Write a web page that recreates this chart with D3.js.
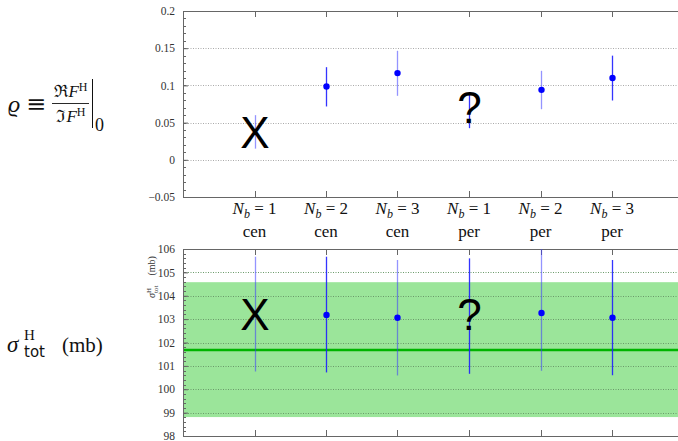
<!DOCTYPE html>
<html><head><meta charset="utf-8">
<script src="https://cdn.jsdelivr.net/npm/d3@7"></script>
<style>
body{margin:0;background:#fff;}
svg{display:block;font-family:"Liberation Serif","DejaVu Serif",serif;}
</style></head>
<body>
<svg id="c" width="678" height="441"></svg>
<script>
// ---- data ----
const nbValues = [1, 2, 3, 1, 2, 3];
const kinds = ["cen", "cen", "cen", "per", "per", "per"];
const markers = ["X", "", "", "?", "", ""];
const rhoCenter = [0.037, 0.0985, 0.1165, 0.071, 0.094, 0.110];
const rhoLow = [0.015, 0.0717, 0.086, 0.0425, 0.068, 0.0797];
const rhoHigh = [0.060, 0.1245, 0.1465, 0.0875, 0.1196, 0.140];
const sigCenter = [103.2, 103.18, 103.06, 103.2, 103.26, 103.06];
const sigLow = [100.76, 100.72, 100.59, 100.66, 100.79, 100.6];
const sigHigh = [105.67, 105.67, 105.53, 105.6, 106.1, 105.53];
const sigBandLow = [98.81];
const sigBandHigh = [104.58];
const sigBandCenter = [101.68];
const rhoTicks = [-0.05, 0, 0.05, 0.1, 0.15, 0.2];
const rhoTickLabels = ["\u22120.05", "0", "0.05", "0.1", "0.15", "0.2"];
const sigTicks = [98, 99, 100, 101, 102, 103, 104, 105, 106];
const sigTickLabels = ["98", "99", "100", "101", "102", "103", "104", "105", "106"];

const svg = d3.select("#c");
const idx = d3.range(nbValues.length);
const x = d3.scaleLinear().domain([0, 7]).range([183, 683.5]);
const X0 = 183, X1 = 683.5;
const axisCol = "#666";

function panel(y, ticks, labels, minorStep, center, low, high, band) {
  const [yb, yt] = y.range();
  const g = svg.append("g");
  if (band) {
    g.append("rect").attr("x", X0).attr("width", X1 - X0)
      .attr("y", y(band.hi)).attr("height", y(band.lo) - y(band.hi))
      .attr("fill", "#9be59a");
  }
  g.selectAll(".grid").data(ticks.slice(1, -1)).join("line")
    .attr("x1", X0).attr("x2", X1)
    .attr("y1", d => Math.round(y(d)) + 0.5).attr("y2", d => Math.round(y(d)) + 0.5)
    .attr("stroke", band ? "#6a9a6a" : "#aaa").attr("stroke-width", 1)
    .attr("stroke-dasharray", "1,1.5");
  if (band) {
    g.append("line").attr("x1", X0).attr("x2", X1)
      .attr("y1", y(band.c)).attr("y2", y(band.c))
      .attr("stroke", "#00b400").attr("stroke-width", 2.5);
  }
  const d0 = y.domain();
  const minors = d3.range(Math.round((d0[1] - d0[0]) / minorStep) + 1).map(i => d0[0] + i * minorStep);
  g.selectAll(".mn").data(minors).join("line")
    .attr("x1", X0).attr("x2", X0 + 3)
    .attr("y1", d => Math.round(y(d)) + 0.5).attr("y2", d => Math.round(y(d)) + 0.5)
    .attr("stroke", axisCol).attr("stroke-width", 1);
  g.selectAll(".mnr").data(minors).join("line")
    .attr("x1", X1).attr("x2", X1 - 3)
    .attr("y1", d => Math.round(y(d)) + 0.5).attr("y2", d => Math.round(y(d)) + 0.5)
    .attr("stroke", axisCol).attr("stroke-width", 1);
  const ax = d3.axisLeft(y).tickValues(ticks).tickFormat((d, i) => labels[i]).tickSize(-5).tickPadding(8);
  const ag = g.append("g").attr("transform", `translate(${X0},0)`).call(ax);
  ag.select(".domain").attr("stroke", axisCol);
  ag.selectAll(".tick line").attr("stroke", axisCol);
  ag.selectAll("text").style("font-size", "11.5px").attr("fill", "#333")
    .style("font-family", "Liberation Serif, serif");
  g.append("line").attr("x1", X0).attr("x2", X1).attr("y1", yt + 0.5).attr("y2", yt + 0.5).attr("stroke", axisCol);
  g.append("line").attr("x1", X0).attr("x2", X1).attr("y1", yb + 0.5).attr("y2", yb + 0.5).attr("stroke", axisCol);
  g.selectAll(".xt").data(idx).join("line")
    .attr("x1", i => Math.round(x(i + 1)) + 0.5).attr("x2", i => Math.round(x(i + 1)) + 0.5)
    .attr("y1", yt).attr("y2", yt + 6).attr("stroke", axisCol);
  g.selectAll(".xb").data(idx).join("line")
    .attr("x1", i => Math.round(x(i + 1)) + 0.5).attr("x2", i => Math.round(x(i + 1)) + 0.5)
    .attr("y1", yb).attr("y2", yb - 6).attr("stroke", axisCol);
  g.selectAll(".eb").data(idx).join("line")
    .attr("x1", i => Math.round(x(i + 1)) + 0.5).attr("x2", i => Math.round(x(i + 1)) + 0.5)
    .attr("y1", i => y(Math.min(high[i], d0[1]))).attr("y2", i => y(low[i]))
    .attr("stroke", i => i % 2 === 0 ? "rgba(60,60,255,0.55)" : "rgba(30,30,255,0.9)")
    .attr("stroke-width", 1.3);
  g.selectAll(".pt").data(idx.filter(i => !markers[i])).join("circle")
    .attr("cx", i => Math.round(x(i + 1)) + 0.5).attr("cy", i => y(center[i]))
    .attr("r", 3.2).attr("fill", "#0000ff");
  g.selectAll(".mk").data(idx.filter(i => markers[i])).join("text")
    .attr("x", i => x(i + 1) + 0.5)
    .attr("y", i => y(center[i]))
    .attr("dy", "0.36em")
    .attr("text-anchor", "middle")
    .style("font-family", "'Liberation Sans', Arial, sans-serif")
    .style("font-size", "44px").attr("fill", "#000")
    .text(i => markers[i]);
}

const yTop = d3.scaleLinear().domain([-0.05, 0.2]).range([197, 11]);
const yBot = d3.scaleLinear().domain([98, 106]).range([436, 249]);
panel(yTop, rhoTicks, rhoTickLabels, 0.01, rhoCenter, rhoLow, rhoHigh, null);
panel(yBot, sigTicks, sigTickLabels, 0.2, sigCenter, sigLow, sigHigh,
  {lo: sigBandLow[0], hi: sigBandHigh[0], c: sigBandCenter[0]});

// x category labels
const lab = svg.append("g");
idx.forEach(i => {
  const t = lab.append("text").attr("x", x(i + 1)).attr("y", 214)
    .attr("text-anchor", "middle").style("font-size", "17px").attr("fill", "#111");
  t.append("tspan").attr("font-style", "italic").text("N");
  t.append("tspan").attr("font-style", "italic").style("font-size", "12px").attr("dy", 4).text("b");
  t.append("tspan").attr("dy", -4).text(" = " + nbValues[i]);
  lab.append("text").attr("x", x(i + 1)).attr("y", 237)
    .attr("text-anchor", "middle").style("font-size", "17px").attr("fill", "#111").text(kinds[i]);
});

// left label rho
const L = svg.append("g").attr("fill", "#111");
L.append("text").attr("x", 8).attr("y", 112).style("font-size", "24px").attr("font-style", "italic").text("\u03f1");
L.append("text").attr("x", 26).attr("y", 112).style("font-size", "24px").style("font-family", "DejaVu Serif, serif").text("\u2261");
const num = L.append("text").attr("x", 71).attr("y", 97).style("font-size", "17px").attr("text-anchor", "middle");
num.append("tspan").style("font-family", "DejaVu Serif, serif").text("\u211c");
num.append("tspan").attr("font-style", "italic").text("F");
num.append("tspan").style("font-size", "12px").attr("dy", -6).text("H");
const den = L.append("text").attr("x", 71).attr("y", 122).style("font-size", "17px").attr("text-anchor", "middle");
den.append("tspan").style("font-family", "DejaVu Serif, serif").text("\u2111");
den.append("tspan").attr("font-style", "italic").text("F");
den.append("tspan").style("font-size", "12px").attr("dy", -6).text("H");
L.append("line").attr("x1", 52).attr("x2", 89).attr("y1", 103.5).attr("y2", 103.5).attr("stroke", "#111").attr("stroke-width", 0.9);
L.append("line").attr("x1", 92.5).attr("x2", 92.5).attr("y1", 79).attr("y2", 128).attr("stroke", "#111").attr("stroke-width", 1);
L.append("text").attr("x", 95).attr("y", 131).style("font-size", "18px").text("0");

// left label sigma
L.append("text").attr("x", 7).attr("y", 352).style("font-size", "23px").attr("font-style", "italic").text("\u03c3");
L.append("text").attr("x", 24).attr("y", 340).style("font-size", "15px").text("H");
L.append("text").attr("x", 24).attr("y", 357).style("font-size", "15px").style("font-family", "DejaVu Sans, sans-serif").text("tot");
L.append("text").attr("x", 62).attr("y", 352).style("font-size", "21px").text("(mb)");

// rotated axis label bottom
const ry = svg.append("text").attr("transform", "translate(155,277) rotate(-90)")
  .attr("text-anchor", "middle").style("font-size", "10px").attr("fill", "#333");
ry.append("tspan").attr("font-style", "italic").text("\u03c3");
ry.append("tspan").style("font-size", "7px").attr("dy", -4).text("H");
ry.append("tspan").style("font-size", "7px").attr("dx", -5).attr("dy", 7).text("tot");
ry.append("tspan").attr("dy", -3).text("\u2003(mb)");
</script>
</body></html>
